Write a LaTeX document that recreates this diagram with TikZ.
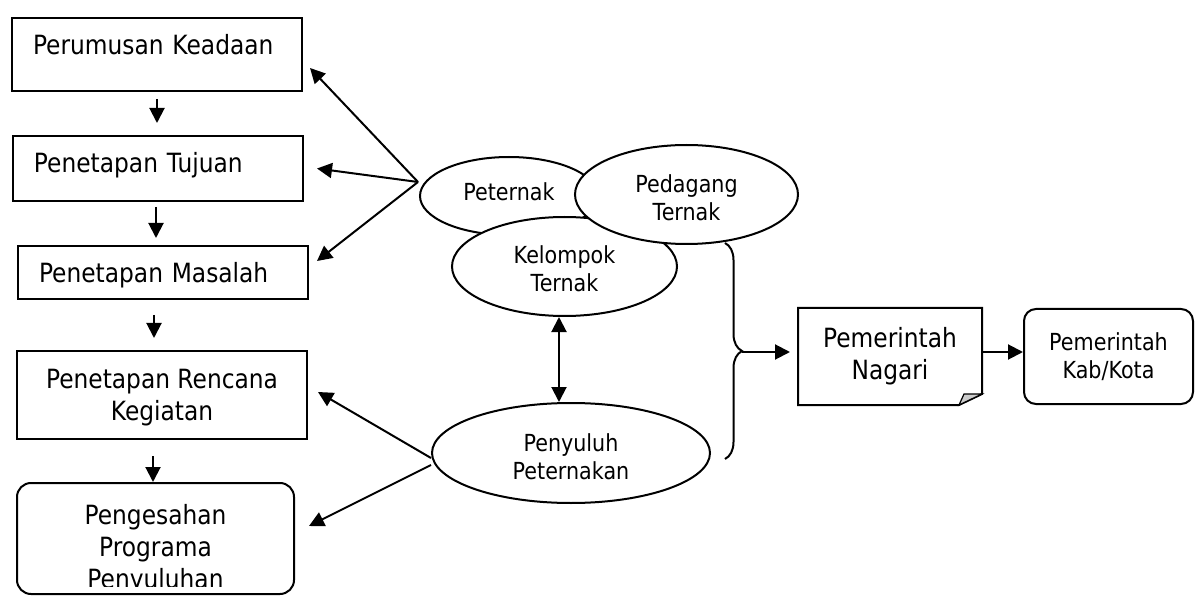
\documentclass[tikz,border=0pt]{standalone}
\usepackage{fontspec}
\setmainfont{DejaVu Sans}[FakeStretch=0.88]
\usetikzlibrary{shapes.geometric,arrows.meta,decorations.pathreplacing}
\newcommand{\hurufbesar}{\fontsize{26.5}{32}\selectfont}
\newcommand{\hurufkecil}{\fontsize{23.5}{28.2}\selectfont}
\newcommand{\tebal}{2pt}

\begin{document}
\begin{tikzpicture}[x=1pt,y=-1pt,line width=\tebal,
  kotak/.style={draw, rectangle, anchor=north west, inner xsep=21pt, inner ysep=0pt, text width=248pt, align=left, text height=37pt, font=\hurufbesar},
  blok/.style={draw, rectangle, inner sep=0pt, align=center, font=\hurufbesar},
  bulat/.style={draw, ellipse, fill=white, inner sep=0pt, align=center, font=\hurufkecil},
  panah/.style={-{Triangle[length=15pt,width=15pt]}},
  panah2/.style={{Triangle[length=15pt,width=15pt]}-{Triangle[length=15pt,width=15pt]}}]

\useasboundingbox (0,0) rectangle (1195,596);

% langkah programa
\node (keadaan) at (11,17) [kotak, text depth=36pt] {Perumusan Keadaan};
\node (tujuan) at (12,135) [kotak, text depth=28pt] {Penetapan Tujuan};
\node (masalah) at (17,245) [kotak, text depth=16pt] {Penetapan Masalah};
\node (rencana) at (162,395) [blok, minimum width=290pt, minimum height=88pt, text height=57pt] {Penetapan Rencana\\Kegiatan};
\node (pengesahan) at (155.5,538.5) [blok, rounded corners=14pt, minimum width=277pt, minimum height=111pt] {};
\begin{scope}
  \clip (pengesahan.north west) rectangle ([yshift=9pt]pengesahan.south east);
  \node (pengesahanteks) at (155.5,549) [align=center, font=\hurufbesar] {Pengesahan\\Programa\\Penyuluhan};
\end{scope}

\draw[panah, shorten <=7pt, shorten >=12pt] (keadaan.south) to (keadaan.south |- tujuan.north);
\draw[panah, shorten <=5pt, shorten >=7pt] ([xshift=-2pt]tujuan.south) to ([xshift=-2pt]tujuan.south |- masalah.north);
\draw[panah, shorten <=15pt, shorten >=12pt] ([xshift=-9pt]masalah.south) to ([xshift=-9pt]masalah.south |- rencana.north);
\draw[panah, shorten <=16pt] ([xshift=-9pt]rencana.south) to ([xshift=-9pt]rencana.south |- pengesahan.north);

% pelaku
\node (peternak) at (509,196) [bulat, minimum width=178pt, minimum height=78pt, text height=17.9pt, text depth=8.5pt] {Peternak};
\node (kelompok) at (564.5,266.5) [bulat, minimum width=225pt, minimum height=99pt, text height=51pt] {Kelompok\\Ternak};
\node (pedagang) at (686.5,194.5) [bulat, minimum width=223pt, minimum height=99pt, text height=52pt] {Pedagang\\Ternak};
\node (penyuluh) at (571,453) [bulat, minimum width=278pt, minimum height=100pt, text height=54pt] {Penyuluh\\Peternakan};

\coordinate (simpul) at (418,182);
\draw[panah] (simpul) to ([xshift=7pt,yshift=-13.5pt]keadaan.east);
\draw[panah] (simpul) to ([xshift=13pt]tujuan.east);
\draw[panah] (simpul) to ([xshift=8pt,yshift=11.5pt]masalah.east);
\draw[panah] ([yshift=-5pt]penyuluh.west) to ([xshift=10pt,yshift=3pt]rencana.east);
\draw[panah] ([yshift=-12pt]penyuluh.west) to ([xshift=14pt,yshift=12.5pt]pengesahan.east);
\draw[panah2] ([xshift=-5.5pt]kelompok.south) to ([xshift=-5.5pt]kelompok.south |- penyuluh.north);

% pemerintah
\node (nagari) at (890,356.5) [blok, draw=none, minimum width=182pt, minimum height=95pt] {Pemerintah\\Nagari};
\draw (nagari.north west) -- (nagari.north east) -- ([yshift=11pt]nagari.south east)
  -- ([xshift=-23pt]nagari.south east) -- (nagari.south west) -- cycle;
\filldraw[fill=gray!40, line width=1.2pt] ([xshift=-23pt]nagari.south east) -- ([xshift=-18pt,yshift=11pt]nagari.south east)
  -- ([yshift=11pt]nagari.south east) -- cycle;
\node (kab) at (1108.5,356.5) [blok, rounded corners=12pt, minimum width=169pt, minimum height=95pt, font=\hurufkecil] {Pemerintah\\Kab/Kota};

\coordinate (kurungatas) at (725,243);
\coordinate (kurungbawah) at (725,459);
\coordinate (kurungujung) at (742,352);
\draw[decorate, decoration={brace, amplitude=17pt}] (kurungatas) -- (kurungbawah);
\draw[panah, shorten >=8pt] (kurungujung) to (kurungujung -| nagari.west);
\draw[panah] (kurungujung -| nagari.east) to (kurungujung -| kab.west);

\end{tikzpicture}
\end{document}
